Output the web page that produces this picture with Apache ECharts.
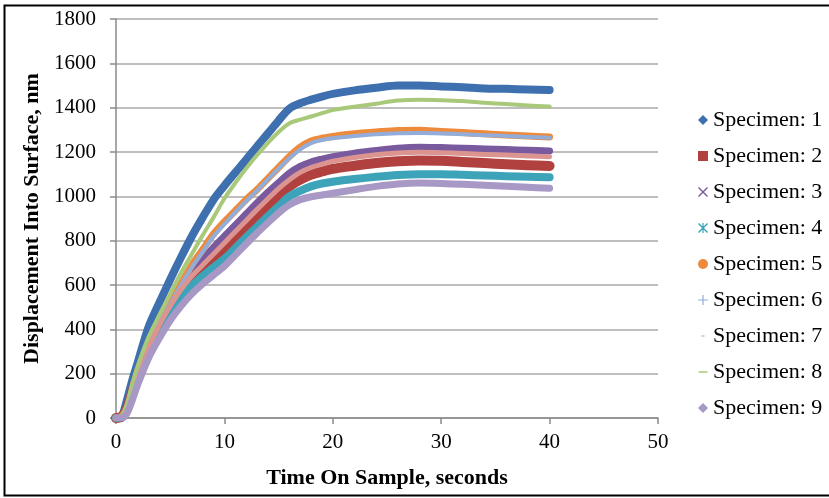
<!DOCTYPE html>
<html>
<head>
<meta charset="utf-8">
<script src="https://cdn.jsdelivr.net/npm/echarts@6/dist/echarts.min.js"></script>
<style>
html,body{margin:0;padding:0;background:#fff;}
#chart{width:829px;height:498px;}
</style>
</head>
<body>
<div id="chart"></div>
<script>
// Time on sample (seconds)
const timeSec = [0,0.5,1,1.5,2,3,4,5,6,7,8,9,10,11,12,13,14,15,16,17,18,19,20,22,24,26,28,30,32,34,36,38,40];
// Displacement into surface (nm) for each specimen
const spec1 = [0,5,80,170,250,410,520,625,725,820,905,985,1048,1107,1165,1225,1283,1342,1396,1420,1436,1450,1462,1478,1490,1500,1500,1496,1492,1487,1485,1482,1480];
const spec2 = [0,5,40,115,190,310,410,495,565,620,668,715,762,810,860,907,955,1000,1045,1075,1098,1112,1124,1138,1150,1158,1162,1160,1155,1150,1145,1140,1137];
const spec3 = [0,5,50,130,210,340,440,525,595,660,715,770,820,870,920,970,1018,1062,1105,1135,1155,1168,1179,1195,1207,1217,1221,1220,1217,1214,1211,1208,1205];
const spec4 = [0,5,35,105,180,300,395,470,540,595,640,680,718,765,815,862,910,955,1000,1025,1045,1058,1066,1078,1088,1096,1100,1100,1097,1094,1091,1088,1086];
const spec5 = [0,5,45,125,205,330,430,520,605,690,760,830,885,935,985,1030,1080,1130,1180,1222,1250,1262,1270,1282,1290,1297,1298,1292,1288,1282,1277,1272,1268];
const spec6 = [0,5,45,125,205,330,430,515,600,680,750,820,875,928,978,1025,1075,1125,1172,1212,1240,1254,1262,1272,1280,1285,1286,1284,1280,1276,1272,1268,1264];
const spec7 = [0,5,42,120,200,320,420,505,580,640,690,740,790,840,890,940,988,1035,1075,1108,1130,1145,1158,1175,1188,1196,1199,1197,1193,1189,1186,1182,1179];
const spec8 = [0,5,60,155,235,365,465,560,655,740,825,905,990,1060,1125,1185,1240,1290,1330,1346,1360,1375,1389,1404,1418,1432,1436,1434,1430,1422,1416,1410,1405];
const spec9 = [0,0,20,80,150,270,360,440,505,560,605,645,685,735,785,834,880,925,962,985,998,1006,1014,1030,1045,1056,1060,1058,1054,1050,1046,1041,1036];

const seriesNames = ['Specimen: 1','Specimen: 2','Specimen: 3','Specimen: 4','Specimen: 5','Specimen: 6','Specimen: 7','Specimen: 8','Specimen: 9'];
const seriesValues = [spec1,spec2,spec3,spec4,spec5,spec6,spec7,spec8,spec9];
const xTicks = {min:0,max:50,interval:10};
const yTicks = {min:0,max:1800,interval:200};

const colors = ['#3E6FAE','#B0413E','#7A5A9E','#3CA3B8','#EE8A3C','#92ADDA','#DC9491','#A9C97A','#A898C6'];
const widths = [8,10,7,8,7,4,5,4,7];
const crossPath = 'path://M1,0L5,4L9,0L10,1L6,5L10,9L9,10L5,6L1,10L0,9L4,5L0,1Z';
const starPath = 'path://M1,0L5,4L9,0L10,1L6,5L10,9L9,10L5,6L1,10L0,9L4,5L0,1Z M4.4,0H5.6V10H4.4Z';
const plusPath = 'path://M4.4,0H5.6V4.4H10V5.6H5.6V10H4.4V5.6H0V4.4H4.4Z';
const dashSmall = 'path://M0,0H0.01V0.01H0Z M9.99,9.99H10V10H9.99Z M3.5,4.4H6.5V5.6H3.5Z';
const dashLong = 'path://M0,0H0.01V0.01H0Z M9.99,9.99H10V10H9.99Z M0.5,4.3H9.5V5.7H0.5Z';
const icons = ['diamond','rect',crossPath,starPath,'circle',plusPath,dashSmall,dashLong,'diamond'];

const chart = echarts.init(document.getElementById('chart'), null, {renderer:'canvas'});
const series = seriesNames.map((name,i)=>({
  name: name,
  type: 'line',
  data: timeSec.map((t,k)=>[t, seriesValues[i][k]]),
  smooth: 0.3,
  showSymbol: false,
  symbol: 'none',
  lineStyle: {color: colors[i], width: widths[i], cap:'round', join:'round'},
  itemStyle: {color: colors[i]},
  z: 2 + i
}));

const font = '"Liberation Serif","Times New Roman",serif';
chart.setOption({
  animation: false,
  backgroundColor: '#fff',
  grid: {left:116, top:19, width:542, height:399, containLabel:false},
  xAxis: {
    type:'value', min:xTicks.min, max:xTicks.max, interval:xTicks.interval,
    name:'Time On Sample, seconds', nameLocation:'middle', nameGap:49,
    nameTextStyle:{fontFamily:font, fontSize:22, fontWeight:'bold', color:'#000'},
    axisLine:{show:true, onZero:false, lineStyle:{color:'#8a8a8a', width:1.5}},
    axisTick:{show:true, inside:false, length:6, lineStyle:{color:'#8a8a8a', width:1.5}},
    axisLabel:{fontFamily:font, fontSize:21, color:'#000', margin:14},
    splitLine:{show:false}
  },
  yAxis: {
    type:'value', min:yTicks.min, max:yTicks.max, interval:yTicks.interval,
    name:'Displacement Into Surface, nm', nameLocation:'middle', nameGap:66,
    nameTextStyle:{fontFamily:font, fontSize:22, fontWeight:'bold', color:'#000'},
    axisLine:{show:true, lineStyle:{color:'#8a8a8a', width:1.5}},
    axisTick:{show:true, inside:false, length:6, lineStyle:{color:'#8a8a8a', width:1.5}},
    axisLabel:{fontFamily:font, fontSize:21, color:'#000', margin:20, formatter:(v)=>String(v)},
    splitLine:{show:true, lineStyle:{color:'#a8a8a8', width:1.5}}
  },
  legend: {
    orient:'vertical', left:693, top:103,
    itemWidth:10, itemHeight:10, itemGap:12,
    textStyle:{fontFamily:font, fontSize:22, color:'#000', lineHeight:24},
    data: seriesNames.map((n,i)=>({name:n, icon:icons[i]}))
  },
  graphic: [{
    type:'rect', left:2, top:3, silent:true,
    shape:{width:900, height:490},
    style:{fill:'none', stroke:'#000', lineWidth:2}
  }],
  series: series
});
</script>
</body>
</html>
